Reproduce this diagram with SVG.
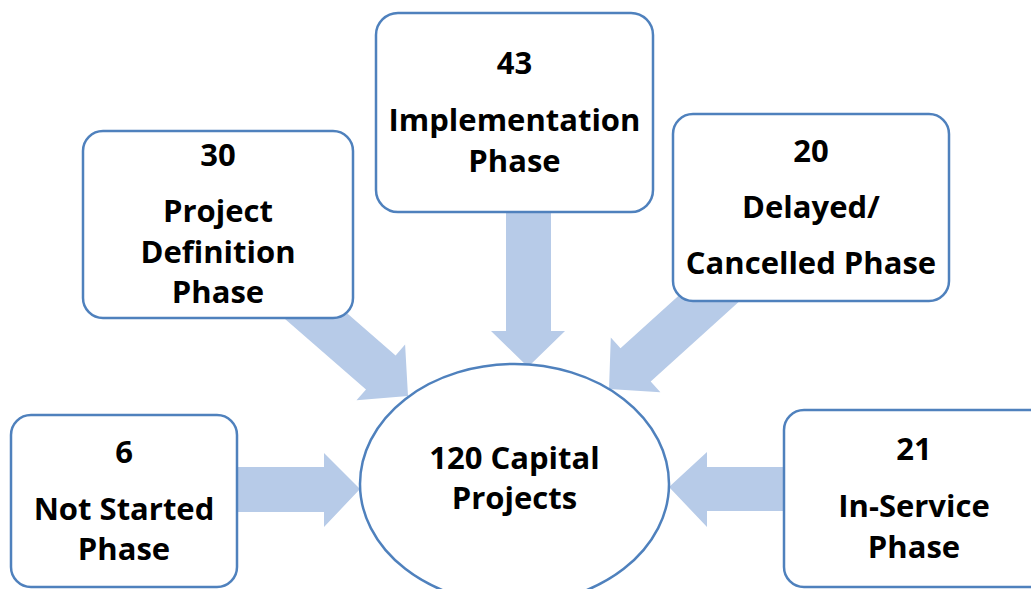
<svg xmlns="http://www.w3.org/2000/svg" width="1031" height="589" viewBox="0 0 1031 589">
<style>
.box{fill:#ffffff;stroke:#4f81bd;stroke-width:2.5}
.arr{fill:#b7cbe8;stroke:none}
.t{font-family:"Open Sans",Lato,"Liberation Sans",sans-serif;font-weight:bold;font-size:31px;fill:#000;text-anchor:middle}
</style>
<rect width="1031" height="589" fill="#ffffff"/>
<g id="connectors">
<polygon class="arr" points="237,467 324,467 324,453 360,489 324,527 324,512 237,512"/>
<polygon class="arr" points="784,467 707,467 707,452 669,487 707,527 707,511 784,511"/>
<polygon class="arr" points="506,205 551,205 551,331 565,331 528,367 491,331 506,331"/>
<polygon class="arr" points="267.8,304.1 297.4,270.1 395.6,355.4 405.1,344.5 408,396 356.5,400.3 366,389.4"/>
<polygon class="arr" points="746.9,294.4 716.7,261.2 620.5,348.2 610.8,337.5 609,389 660.4,392.3 650.7,381.5"/>
</g>
<g id="node-center">
<ellipse class="box" cx="514.5" cy="484" rx="154.5" ry="120"/>
<text class="t" x="514.5" y="469">120 Capital</text>
<text class="t" x="514.5" y="509">Projects</text>
</g>
<g id="node-not-started">
<rect class="box" x="11" y="415" width="226" height="172" rx="20"/>
<text class="t" x="124" y="463">6</text>
<text class="t" x="124" y="520">Not Started</text>
<text class="t" x="124" y="560">Phase</text>
</g>
<g id="node-project-definition">
<rect class="box" x="83" y="131" width="270" height="187" rx="20"/>
<text class="t" x="218" y="166">30</text>
<text class="t" x="218" y="222">Project</text>
<text class="t" x="218" y="263">Definition</text>
<text class="t" x="218" y="303">Phase</text>
</g>
<g id="node-implementation">
<rect class="box" x="376" y="13" width="277" height="199" rx="22"/>
<text class="t" x="514.5" y="74">43</text>
<text class="t" x="514.5" y="131">Implementation</text>
<text class="t" x="514.5" y="172">Phase</text>
</g>
<g id="node-delayed">
<rect class="box" x="673" y="114" width="276" height="187" rx="20"/>
<text class="t" x="811" y="162">20</text>
<text class="t" x="811" y="218">Delayed/</text>
<text class="t" x="811" y="274">Cancelled Phase</text>
</g>
<g id="node-in-service">
<rect class="box" x="784" y="410" width="270" height="177" rx="20"/>
<text class="t" x="914" y="460">21</text>
<text class="t" x="914" y="517">In-Service</text>
<text class="t" x="914" y="558">Phase</text>
</g>
</svg>
